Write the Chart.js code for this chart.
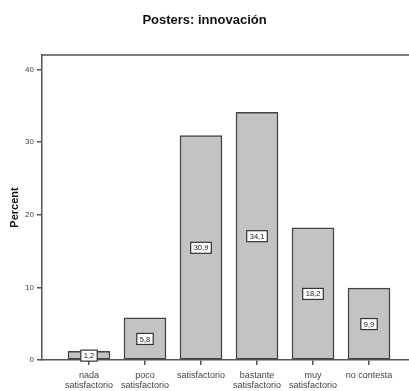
<!DOCTYPE html>
<html lang="es">
<head>
<meta charset="UTF-8">
<title>Posters: innovación</title>
<script src="https://cdn.jsdelivr.net/npm/chart.js"></script>
<style>
  html, body { margin: 0; padding: 0; background: #fff; }
  #wrap { width: 409px; height: 391px; }
</style>
</head>
<body>
<div id="wrap"><canvas id="chart" width="409" height="391"></canvas></div>
<script>
// data
const categories = [
  ['nada', 'satisfactorio'],
  ['poco', 'satisfactorio'],
  'satisfactorio',
  ['bastante', 'satisfactorio'],
  ['muy', 'satisfactorio'],
  'no contesta'
];
const percents = [1.2, 5.8, 30.9, 34.1, 18.2, 9.9];
const yTicks = [0, 10, 20, 30, 40];

// boxed value label in the middle of each bar, plus the top frame line
const boxLabels = {
  id: 'boxLabels',
  afterDatasetsDraw(chart) {
    const ctx = chart.ctx;
    const meta = chart.getDatasetMeta(0);
    const y = chart.scales.y;
    ctx.save();
    ctx.font = '7.5px "Liberation Sans", Arial, sans-serif';
    ctx.textAlign = 'center';
    ctx.textBaseline = 'middle';
    meta.data.forEach((bar, i) => {
      const txt = percents[i].toFixed(1).replace('.', ',');
      const cy = y.getPixelForValue(percents[i] / 2);
      const w = ctx.measureText(txt).width + 6;
      const h = 11;
      ctx.fillStyle = '#fff';
      ctx.fillRect(bar.x - w / 2, cy - h / 2, w, h);
      ctx.strokeStyle = '#333';
      ctx.lineWidth = 1.2;
      ctx.strokeRect(bar.x - w / 2, cy - h / 2, w, h);
      ctx.fillStyle = '#222';
      ctx.fillText(txt, bar.x, cy + 0.5);
    });
    const a = chart.chartArea;
    ctx.strokeStyle = '#555';
    ctx.lineWidth = 1.5;
    ctx.beginPath();
    ctx.moveTo(a.left, a.top);
    ctx.lineTo(a.right, a.top);
    ctx.stroke();
    ctx.restore();
  }
};

new Chart(document.getElementById('chart'), {
  type: 'bar',
  data: {
    datasets: [{
      data: percents.map((v, i) => ({ x: i, y: v })),
      backgroundColor: '#c3c3c3',
      borderColor: '#444',
      borderWidth: 1.5,
      borderSkipped: false,
      barThickness: 42
    }]
  },
  options: {
    responsive: false,
    animation: false,
    layout: { padding: { left: 0, right: 0, top: 0, bottom: 0 } },
    plugins: {
      legend: { display: false },
      tooltip: { enabled: false },
      title: {
        display: true,
        text: 'Posters: innovación',
        color: '#111',
        font: { family: '"Liberation Sans", Arial, sans-serif', size: 13, weight: 'bold' },
        padding: { top: 13, bottom: 26.4 }
      }
    },
    scales: {
      x: {
        type: 'linear',
        offset: false,
        min: -0.839,
        max: 5.714,
        afterBuildTicks: s => { s.ticks = categories.map((c, i) => ({ value: i })); },
        afterFit: s => { s.height = 31; },
        grid: { offset: false, drawOnChartArea: false, drawTicks: true, tickLength: 5, color: '#555', lineWidth: 1.5 },
        border: { color: '#555', width: 1.5 },
        ticks: {
          autoSkip: false,
          maxRotation: 0,
          padding: 5,
          color: '#444',
          font: { family: '"Liberation Sans", Arial, sans-serif', size: 9, lineHeight: 1.15 },
          callback: v => categories[v]
        }
      },
      y: {
        min: 0,
        max: 42,
        afterBuildTicks: s => { s.ticks = yTicks.map(v => ({ value: v })); },
        afterFit: s => { s.width = 42; },
        grid: { drawOnChartArea: false, drawTicks: true, tickLength: 5, color: '#555', lineWidth: 1.5 },
        border: { color: '#555', width: 1.5 },
        title: {
          display: true,
          text: 'Percent',
          color: '#111',
          font: { family: '"Liberation Sans", Arial, sans-serif', size: 11, weight: 'bold' },
          padding: { top: 8, bottom: 0 }
        },
        ticks: {
          padding: 3,
          color: '#444',
          font: { family: '"Liberation Sans", Arial, sans-serif', size: 8 }
        }
      }
    }
  },
  plugins: [boxLabels]
});
</script>
</body>
</html>
